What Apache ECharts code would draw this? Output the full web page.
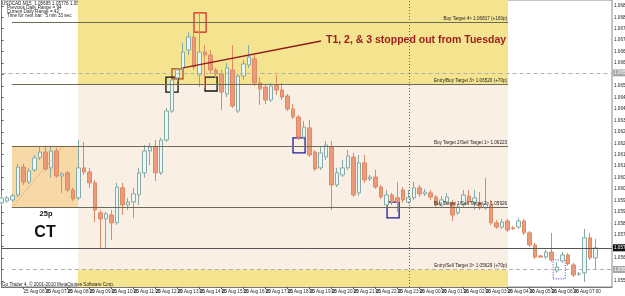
<!DOCTYPE html>
<html><head><meta charset="utf-8">
<script src="https://cdn.jsdelivr.net/npm/echarts@6/dist/echarts.min.js"></script>
<style>html,body{margin:0;padding:0;background:#fff}#c{width:625px;height:296px}</style>
</head><body><div id="c"></div>
<script>
// ---------- data ----------
const symbolName = 'USDCAD,M15';
const open = [1.05949,1.05958,1.05963,1.05987,1.06121,1.06049,1.06107,1.06165,1.06193,1.06117,
1.06198,1.06078,1.06093,1.06011,1.05973,1.06117,1.06097,1.06045,1.05901,1.05872,
1.05891,1.05853,1.06021,1.05939,1.05953,1.05987,1.06093,1.06198,1.06217,1.06093,
1.06251,1.06390,1.06549,1.06597,1.06683,1.06745,1.06563,1.06673,1.06659,1.06587,
1.06568,1.06472,1.06587,1.06390,1.06558,1.06611,1.06640,1.06525,1.06505,1.06443,
1.06515,1.06491,1.06462,1.06400,1.06361,1.06265,1.06309,1.06193,1.06117,1.06169,
1.06217,1.06035,1.06083,1.06117,1.06169,1.05997,1.06141,1.06064,1.06073,1.06025,
1.05939,1.05987,1.05973,1.06011,1.05953,1.05973,1.06021,1.05992,1.05997,1.05977,
1.05939,1.05953,1.05949,1.05901,1.05939,1.05982,1.05953,1.05949,1.05925,1.05939,
1.05853,1.05833,1.05862,1.05829,1.05833,1.05862,1.05805,1.05747,1.05694,1.05689,
1.05713,1.05622,1.05670,1.05699,1.05651,1.05608,1.05613,1.05781,1.05685];
const close = [1.05973,1.05973,1.05982,1.06121,1.06049,1.06102,1.06165,1.06193,1.06112,1.06198,
1.06078,1.06088,1.06011,1.05968,1.06117,1.06097,1.06045,1.05915,1.05872,1.05896,
1.05853,1.06025,1.05939,1.05953,1.05992,1.06093,1.06198,1.06217,1.06093,1.06251,
1.06390,1.06539,1.06587,1.06673,1.06745,1.06601,1.06673,1.06659,1.06587,1.06568,
1.06481,1.06597,1.06414,1.06558,1.06616,1.06649,1.06525,1.06496,1.06443,1.06510,
1.06491,1.06457,1.06400,1.06361,1.06265,1.06313,1.06179,1.06112,1.06189,1.06227,
1.06035,1.06093,1.06117,1.06174,1.05987,1.06141,1.06059,1.06073,1.06025,1.05977,
1.05987,1.05953,1.05953,1.05963,1.05973,1.06021,1.05992,1.06001,1.05977,1.05939,
1.05963,1.05977,1.05891,1.05929,1.05987,1.05953,1.05973,1.05925,1.05944,1.05853,
1.05833,1.05857,1.05819,1.05824,1.05862,1.05805,1.05747,1.05689,1.05689,1.05713,
1.05675,1.05641,1.05699,1.05656,1.05603,1.05608,1.05781,1.05685,1.05733];
const high = [1.05987,1.05982,1.05992,1.06136,1.06136,1.06117,1.06179,1.06217,1.06217,1.06217,
1.06213,1.06097,1.06102,1.06021,1.06251,1.06241,1.06117,1.06059,1.05915,1.05905,
1.05915,1.06045,1.06045,1.05973,1.06021,1.06117,1.06227,1.06237,1.06251,1.06261,
1.06405,1.06549,1.06597,1.06717,1.06769,1.06769,1.06861,1.06707,1.06683,1.06597,
1.06587,1.06621,1.06707,1.06568,1.06635,1.06707,1.06659,1.06553,1.06520,1.06525,
1.06563,1.06525,1.06472,1.06424,1.06371,1.06342,1.06347,1.06203,1.06217,1.06246,
1.06246,1.06117,1.06155,1.06203,1.06189,1.06179,1.06179,1.06083,1.06107,1.06035,
1.06011,1.05997,1.06049,1.06025,1.06011,1.06049,1.06035,1.06016,1.06011,1.05987,
1.05982,1.05997,1.05963,1.05944,1.06011,1.06011,1.06011,1.06001,1.06069,1.05963,
1.05867,1.05872,1.05872,1.05838,1.05877,1.05872,1.05814,1.05757,1.05699,1.05723,
1.05805,1.05665,1.05713,1.05709,1.05661,1.05617,1.05824,1.05805,1.05776];
const low = [1.05934,1.05949,1.05953,1.05977,1.06035,1.06040,1.06097,1.06155,1.06102,1.06069,
1.06069,1.05997,1.06001,1.05958,1.05963,1.06083,1.06021,1.05857,1.05733,1.05733,
1.05771,1.05843,1.05891,1.05915,1.05877,1.05939,1.06069,1.06131,1.06054,1.06083,
1.06241,1.06381,1.06529,1.06587,1.06659,1.06587,1.06505,1.06501,1.06568,1.06549,
1.06395,1.06457,1.06405,1.06381,1.06539,1.06597,1.06510,1.06419,1.06424,1.06433,
1.06467,1.06443,1.06390,1.06352,1.06251,1.06256,1.06169,1.06102,1.06107,1.06155,
1.05915,1.06025,1.06073,1.06107,1.05977,1.05982,1.06045,1.06054,1.06016,1.05968,
1.05929,1.05939,1.05905,1.05949,1.05944,1.05963,1.05977,1.05982,1.05963,1.05929,
1.05929,1.05944,1.05862,1.05891,1.05929,1.05939,1.05915,1.05915,1.05915,1.05843,
1.05824,1.05824,1.05809,1.05819,1.05824,1.05795,1.05737,1.05680,1.05685,1.05680,
1.05665,1.05613,1.05661,1.05646,1.05593,1.05598,1.05569,1.05675,1.05627];
// y axis tick labels
const yTicks = [1.06895,1.06840,1.06785,1.06730,1.06675,1.06620,1.06565,1.06510,1.06455,1.06400,
1.06345,1.06290,1.06235,1.06180,1.06125,1.06070,1.06015,1.05960,1.05905,1.05850,
1.05795,1.05740,1.05685,1.05630,1.05575];
const yMin = 1.05545, yMax = 1.06923;
// target levels
const targetLevels = [1.06817, 1.06520, 1.06223, 1.05926];
const targetNames = ['Buy Target 4> ', 'Entry/Buy Target 3> ', 'Buy Target 2/Sell Target 1> ', 'Buy Target 1/Sell Target 2> '];
const targetSuffix = [' (+100p)', ' (+70p)', '', ''];
const sellEntryLevel = 1.05629;
const upperDashLevel = 1.06573;
const infoLines = ['Previous Daily Range = 94', 'Current Daily Range = 42', 'Time for next bar:  5 min 33 sec'];
const noteText = 'T1, 2, & 3 stopped out from Tuesday';

// categories: 15-minute bars starting 25 Aug 05:00
const nCats = 112;
const categories = [];
for (let i = 0; i < nCats; i++) {
  const m = 300 + 15 * i;
  const d = 25 + Math.floor(m / 1440);
  const hh = Math.floor((m % 1440) / 60), mm = m % 60;
  categories.push(d + ' Aug ' + String(hh).padStart(2, '0') + ':' + String(mm).padStart(2, '0'));
}
const candles = open.map((o, i) => [o, close[i], low[i], high[i]]);
const n = open.length - 1;
const header = symbolName + '  ' + [open[n], high[n], low[n], close[n]].map(v => v.toFixed(5)).join(' ');

// ---------- annotation layout (data coordinates) ----------
const bandX = [13.9, 92.1];
const lineX = [1.9, 92.1];
const xEnd = nCats - 1;
const C_YEL = '#F4E48F', C_PEACH = '#FAEFE4', C_BOX = '#F6D9A6';
const CLEAR = 'rgba(0,0,0,0)';

const chart = echarts.init(document.getElementById('c'), null, {renderer: 'canvas'});
const F = 'Liberation Sans, Arial, sans-serif';
const small = {fontSize: 4.6, fontFamily: F, color: '#222'};

const levelLines = targetLevels.map((v, k) => [
  {coord: [lineX[0], v], lineStyle: {color: '#6d6a58', width: 1, type: 'solid'},
   label: {show: true, position: 'insideEndTop', distance: 1, ...small,
     formatter: targetNames[k] + v.toFixed(5) + targetSuffix[k]}},
  {coord: [lineX[1], v]}
]);

function axisTag(v, bg, fg) {
  return [
    {coord: [0, v], lineStyle: {color: CLEAR, width: 1}, label: {show: true, position: 'end', distance: 1, formatter: v.toFixed(5),
      backgroundColor: bg, color: fg, fontSize: 4.6, fontFamily: F, padding: [1, 1]}},
    {coord: [xEnd, v]}
  ];
}

const option = {
  animation: false,
  backgroundColor: '#ffffff',
  grid: {left: 1.5, right: 13, top: 0, bottom: 9, outerBoundsMode: 'none', containLabel: false,
    show: true, borderColor: '#8a8a8a', borderWidth: 1, backgroundColor: '#fff'},
  xAxis: [
    {type: 'category', data: categories, boundaryGap: false,
     axisLine: {lineStyle: {color: '#777'}},
     axisTick: {interval: 3, length: 2, lineStyle: {color: '#555'}},
     axisLabel: {interval: 3, align: 'left', margin: 2, fontSize: 4.6, fontFamily: F, color: '#222',
       formatter: (v, i) => i === 0 ? '25 Aug 2010' : v},
     splitLine: {show: false}},
    {type: 'value', min: 0, max: xEnd, show: false}
  ],
  yAxis: {type: 'value', position: 'right', min: yMin, max: yMax, scale: true,
    axisLine: {show: true, lineStyle: {color: '#777'}},
    axisTick: {show: true, length: 2, customValues: yTicks, lineStyle: {color: '#555'}},
    axisLabel: {show: true, customValues: yTicks, margin: 2, fontSize: 4.6, fontFamily: F, color: '#222',
      formatter: v => v.toFixed(5)},
    splitLine: {show: false}},
  graphic: [
    {type: 'text', x: 2, y: 3.5, style: {text: header, font: '4.6px ' + F, fill: '#222', verticalAlign: 'middle'}},
    {type: 'text', x: 7, y: 7.7, style: {text: infoLines[0], font: '4.6px ' + F, fill: '#222', verticalAlign: 'middle'}},
    {type: 'text', x: 7, y: 11.7, style: {text: infoLines[1], font: '4.6px ' + F, fill: '#222', verticalAlign: 'middle'}},
    {type: 'text', x: 7, y: 15.7, style: {text: infoLines[2], font: '4.6px ' + F, fill: '#222', verticalAlign: 'middle'}},
    {type: 'text', x: 326, y: 40, z: 100, style: {text: noteText, font: 'bold 10.5px ' + F, fill: '#9E1B1B', verticalAlign: 'middle'}},
    {type: 'text', x: 46, y: 213.5, z: 100, style: {text: '25p', font: 'bold 7.5px ' + F, fill: '#111', align: 'center', verticalAlign: 'middle'}},
    {type: 'text', x: 45, y: 233, z: 100, style: {text: 'CT', font: 'bold 16px ' + F, fill: '#111', align: 'center', verticalAlign: 'middle'}},
    {type: 'text', x: 2, y: 284.5, z: 100, style: {text: 'Go Trader 4, © 2001-2010 MetaQuotes Software Corp.', font: '4.6px ' + F, fill: '#222', verticalAlign: 'middle'}}
  ],
  series: [
    { // background zones
      type: 'line', xAxisIndex: 1, yAxisIndex: 0, data: [], z: 1, silent: true,
      markArea: {silent: true, data: [
        [{coord: [bandX[0], targetLevels[1]], itemStyle: {color: C_YEL}}, {coord: [bandX[1], yMax]}],
        [{coord: [bandX[0], sellEntryLevel], itemStyle: {color: C_PEACH}}, {coord: [bandX[1], targetLevels[1]]}],
        [{coord: [bandX[0], yMin], itemStyle: {color: C_YEL}}, {coord: [bandX[1], sellEntryLevel]}],
        [{coord: [lineX[0], targetLevels[3]], itemStyle: {color: C_BOX}}, {coord: [bandX[0], targetLevels[2]]}]
      ]},
      markLine: {silent: true, symbol: 'none', animation: false, label: {show: false}, data: [
        ...levelLines,
        [{coord: [0, upperDashLevel], lineStyle: {color: '#b0b0b0', width: 1, type: [4, 3]}}, {coord: [xEnd, upperDashLevel]}],
        [{coord: [lineX[0], sellEntryLevel], lineStyle: {color: '#b0b0b0', width: 1, type: [4, 3]}}, {coord: [xEnd, sellEntryLevel]}],
        [{coord: [lineX[0], sellEntryLevel], lineStyle: {color: CLEAR, width: 1},
          label: {show: true, position: 'insideEndTop', distance: 1, ...small,
            formatter: 'Entry/Sell Target 3> ' + sellEntryLevel.toFixed(5) + ' (+70p)'}}, {coord: [lineX[1], sellEntryLevel]}],
        [{coord: [0, close[n]], lineStyle: {color: '#555', width: 1, type: 'solid'}}, {coord: [xEnd, close[n]]}],
        [{coord: [74.1, yMin], lineStyle: {color: '#666', width: 1, type: [1, 2]}}, {coord: [74.1, yMax]}],
        [{coord: [lineX[0], targetLevels[3]], lineStyle: {color: '#E07A4A', width: 1, type: [1, 2]}}, {coord: [11.0, 1.06217]}]
      ]}
    },
    {
      type: 'candlestick', xAxisIndex: 0, yAxisIndex: 0, data: candles, z: 3, barWidth: 4,
      itemStyle: {color: '#E9F8F6', color0: '#EC9A78', borderColor: '#86ABA6', borderColor0: '#DE8A66', borderWidth: 1}
    },
    { // trade markers
      type: 'line', xAxisIndex: 1, yAxisIndex: 0, data: [], z: 5, silent: true,
      markArea: {silent: true, data: [
        [{coord: [35.0, 1.06769], itemStyle: {color: CLEAR, borderColor: '#D42222', borderWidth: 1.2}}, {coord: [37.2, 1.06861]}],
        [{coord: [31.0, 1.06544], itemStyle: {color: CLEAR, borderColor: '#A8401A', borderWidth: 1.2}}, {coord: [33.0, 1.06592]}],
        [{coord: [29.9, 1.06481], itemStyle: {color: CLEAR, borderColor: '#111', borderWidth: 1.3}}, {coord: [32.1, 1.06553]}],
        [{coord: [37.0, 1.06486], itemStyle: {color: CLEAR, borderColor: '#111', borderWidth: 1.3}}, {coord: [39.2, 1.06553]}],
        [{coord: [53.0, 1.06189], itemStyle: {color: CLEAR, borderColor: '#1C1C9C', borderWidth: 1.3}}, {coord: [55.2, 1.06261]}],
        [{coord: [70.1, 1.05877], itemStyle: {color: CLEAR, borderColor: '#1C1C9C', borderWidth: 1.3}}, {coord: [72.3, 1.05953]}],
        [{coord: [100.3, 1.05584], itemStyle: {color: CLEAR, borderColor: '#3A3AD0', borderWidth: 1, borderType: [1, 1.5]}}, {coord: [102.5, 1.05675]}]
      ]},
      markLine: {silent: true, symbol: 'none', animation: false, label: {show: false}, data: [
        [{coord: [33.0, 1.06597], lineStyle: {color: '#8E1B1B', width: 1.4, type: 'solid'}}, {coord: [58.1, 1.06726]}],
        axisTag(upperDashLevel, '#a8a8a8', '#fff'),
        axisTag(sellEntryLevel, '#a8a8a8', '#fff'),
        axisTag(close[n], '#111', '#fff')
      ]}
    }
  ]
};
chart.setOption(option);
</script></body></html>
